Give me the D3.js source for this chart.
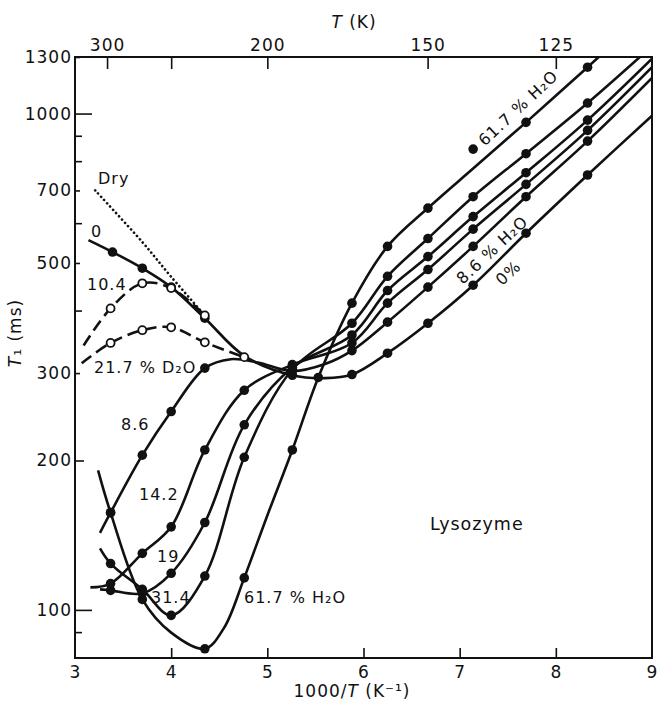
<!DOCTYPE html>
<html>
<head>
<meta charset="utf-8">
<script src="https://cdn.jsdelivr.net/npm/d3@7"></script>
<style>
body { margin: 0; background: #fff; }
text { font-family: "DejaVu Sans", sans-serif; fill: #111; letter-spacing: 1px; }
</style>
</head>
<body>
<div id="chart"></div>
<script>
// axes
var xTicks = [3, 4, 5, 6, 7, 8, 9];
var tempTicks = [300, 250, 200, 150, 125];
var tempLabels = {300: "300", 250: "", 200: "200", 150: "150", 125: "125"};
var yLabelled = [100, 200, 300, 500, 700, 1000, 1300];
var yMinor = [90, 400, 600, 800, 900];

// series: [1000/T, T1 (ms)]  curve = drawn line, dots = measured points
var dryCurve = [[3.21, 700], [3.70, 551], [4.0, 469], [4.37, 388]];

var d2o104Curve = [[3.09, 341], [3.37, 405], [3.70, 455], [4.0, 445], [4.35, 392]];
var d2o104Dots = [[3.37, 405], [3.70, 455], [4.0, 445], [4.35, 392]];

var d2o217Curve = [[3.07, 314], [3.37, 345], [3.70, 366], [4.0, 371], [4.35, 346], [4.76, 323]];
var d2o217Dots = [[3.37, 345], [3.70, 366], [4.0, 371], [4.35, 346], [4.76, 323]];

var h0Curve = [[3.14, 556], [3.39, 526], [3.70, 488], [4.0, 447], [4.35, 387], [4.76, 325], [5.26, 297],
    [5.6, 293], [5.88, 298], [6.25, 329], [6.67, 378], [7.14, 451], [7.69, 574], [8.33, 752], [9.0, 990]];
var h0Dots = [[3.39, 526], [3.70, 488], [4.0, 447], [4.35, 387], [5.26, 297], [5.88, 298], [6.25, 329],
    [6.67, 378], [7.14, 451], [7.69, 574], [8.33, 752]];

var h86Curve = [[3.26, 143], [3.37, 157], [3.70, 205], [4.0, 251], [4.35, 307], [4.62, 320], [4.9, 315],
    [5.26, 303], [5.6, 313], [5.88, 333], [6.25, 380], [6.67, 447], [7.14, 540], [7.69, 680], [8.33, 880], [9.0, 1180]];
var h86Dots = [[3.37, 157], [3.70, 205], [4.0, 251], [4.35, 307], [5.26, 303], [5.88, 333], [6.25, 380],
    [6.67, 447], [7.14, 540], [7.69, 680], [8.33, 880]];

var h142Curve = [[3.16, 111], [3.37, 113], [3.70, 130], [4.0, 147], [4.35, 210], [4.76, 277], [5.26, 312],
    [5.88, 345], [6.25, 415], [6.67, 485], [7.14, 585], [7.69, 720], [8.33, 925], [9.0, 1240]];
var h142Dots = [[3.37, 113], [3.70, 130], [4.0, 147], [4.35, 210], [4.76, 277], [5.26, 312], [5.88, 345],
    [6.25, 415], [6.67, 485], [7.14, 585], [7.69, 720], [8.33, 925]];

var h19Curve = [[3.26, 110], [3.37, 109.5], [3.70, 108], [4.0, 118.5], [4.35, 150], [4.76, 236], [5.26, 308],
    [5.88, 358], [6.25, 440], [6.67, 515], [7.14, 620], [7.69, 760], [8.33, 970], [9.0, 1290]];
var h19Dots = [[3.37, 109.5], [3.70, 108], [4.0, 118.5], [4.35, 150], [4.76, 236], [5.26, 308], [5.88, 358],
    [6.25, 440], [6.67, 515], [7.14, 620], [7.69, 760], [8.33, 970]];

var h314Curve = [[3.26, 133], [3.37, 124], [3.70, 110], [4.0, 97.5], [4.35, 117], [4.76, 203], [5.26, 305],
    [5.88, 378], [6.25, 470], [6.67, 560], [7.14, 680], [7.69, 830], [8.33, 1050], [8.95, 1340]];
var h314Dots = [[3.37, 124], [3.70, 110], [4.0, 97.5], [4.35, 117], [4.76, 203], [5.26, 305], [5.88, 378],
    [6.25, 470], [6.67, 560], [7.14, 680], [7.69, 830], [8.33, 1050]];

var h617Curve = [[3.24, 191], [3.37, 157], [3.70, 105], [4.0, 90], [4.35, 83.5], [4.55, 92], [4.76, 116],
    [5.0, 155], [5.26, 210], [5.53, 294], [5.88, 415], [6.25, 540], [6.67, 645], [7.14, 775], [7.69, 960],
    [8.33, 1240], [8.55, 1357]];
var h617Dots = [[3.37, 157], [3.70, 105], [4.35, 83.5], [4.76, 116], [5.26, 210], [5.53, 294], [5.88, 415],
    [6.25, 540], [6.67, 645], [7.14, 848], [7.69, 960], [8.33, 1240]];

function initChart(containerID) {
    var width = 657, height = 702;
    var frame = {left: 75, right: 652, top: 57, bottom: 658};

    var svg = d3.select("#" + containerID)
        .append("svg")
        .attr("width", width)
        .attr("height", height);

    var xScale = d3.scaleLinear().domain([3, 9]).range([frame.left, frame.right]);
    var yScale = d3.scaleLog().domain([80, 1300]).range([frame.bottom, frame.top]);

    var line = d3.line()
        .x(function(d) { return xScale(d[0]); })
        .y(function(d) { return yScale(d[1]); })
        .curve(d3.curveCatmullRom.alpha(0.5));

    svg.append("defs").append("clipPath")
        .attr("id", "mask")
        .append("rect")
        .attr("x", frame.left)
        .attr("y", frame.top)
        .attr("width", frame.right - frame.left)
        .attr("height", frame.bottom - frame.top);

    // bottom axis, ticks pointing inward
    var gX = svg.append("g")
        .attr("transform", "translate(0," + frame.bottom + ")")
        .call(d3.axisBottom(xScale).tickValues(xTicks).tickFormat(d3.format("d"))
            .tickSizeInner(-10).tickSizeOuter(0).tickPadding(8));

    // top temperature axis
    var gT = svg.append("g")
        .attr("transform", "translate(0," + frame.top + ")")
        .call(d3.axisTop(xScale)
            .tickValues(tempTicks.map(function(t) { return 1000 / t; }))
            .tickFormat(function(v) { return tempLabels[Math.round(1000 / v)]; })
            .tickSizeInner(-12).tickSizeOuter(0).tickPadding(6));

    // left axis
    var gY = svg.append("g")
        .attr("transform", "translate(" + frame.left + ",0)")
        .call(d3.axisLeft(yScale).tickValues(yLabelled).tickFormat(d3.format("d"))
            .tickSizeInner(-6).tickSizeOuter(0).tickPadding(3));

    gY.selectAll(".tick line")
        .attr("x2", function(d) {
            if (d === 1000 || d === 100) return 17;
            if (d === 200) return 9;
            return 5;
        });

    svg.append("g")
        .selectAll("line")
        .data(yMinor)
        .enter().append("line")
        .attr("x1", frame.left)
        .attr("x2", frame.left + 7)
        .attr("y1", function(d) { return yScale(d); })
        .attr("y2", function(d) { return yScale(d); })
        .attr("stroke", "#111")
        .attr("stroke-width", 1.6);

    [gX, gT, gY].forEach(function(g) {
        g.select(".domain").remove();
        g.attr("font-size", 17).attr("font-family", "DejaVu Sans, sans-serif");
        g.selectAll(".tick line").attr("stroke", "#111").attr("stroke-width", 1.6);
        g.selectAll(".tick text").attr("fill", "#111");
    });
    gX.selectAll(".tick line").attr("y2", function(d) { return (d === 3 || d === 9) ? 0 : -10; });

    svg.append("rect")
        .attr("x", frame.left)
        .attr("y", frame.top)
        .attr("width", frame.right - frame.left)
        .attr("height", frame.bottom - frame.top)
        .attr("fill", "none")
        .attr("stroke", "#111")
        .attr("stroke-width", 2);

    var plot = svg.append("g").attr("clip-path", "url(#mask)");

    function drawCurve(data, dash, cap) {
        plot.append("path")
            .datum(data)
            .attr("fill", "none")
            .attr("stroke", "#111")
            .attr("stroke-width", 2.6)
            .attr("stroke-linecap", cap || "butt")
            .attr("stroke-dasharray", dash || null)
            .attr("d", line);
    }

    function drawDots(data, open) {
        plot.append("g")
            .selectAll("circle")
            .data(data)
            .enter().append("circle")
            .attr("cx", function(d) { return xScale(d[0]); })
            .attr("cy", function(d) { return yScale(d[1]); })
            .attr("r", open ? 4 : 4.8)
            .attr("fill", open ? "#fff" : "#111")
            .attr("stroke", "#111")
            .attr("stroke-width", open ? 1.8 : 0);
    }

    drawCurve(dryCurve, "0.1,4.3", "round");
    drawCurve(h0Curve);
    drawCurve(h86Curve);
    drawCurve(h142Curve);
    drawCurve(h19Curve);
    drawCurve(h314Curve);
    drawCurve(h617Curve);
    drawCurve(d2o104Curve, "12,6");
    drawCurve(d2o217Curve, "12,6");

    drawDots(h0Dots);
    drawDots(h86Dots);
    drawDots(h142Dots);
    drawDots(h19Dots);
    drawDots(h314Dots);
    drawDots(h617Dots);
    drawDots(d2o104Dots, true);
    drawDots(d2o217Dots, true);

    // titles
    var tTitle = svg.append("text").attr("x", 354).attr("y", 28).attr("text-anchor", "middle").attr("font-size", 17);
    tTitle.append("tspan").attr("font-style", "italic").text("T");
    tTitle.append("tspan").text(" (K)");

    var xTitle = svg.append("text").attr("x", 352).attr("y", 697).attr("text-anchor", "middle").attr("font-size", 17);
    xTitle.append("tspan").text("1000/");
    xTitle.append("tspan").attr("font-style", "italic").text("T");
    xTitle.append("tspan").text(" (K⁻¹)");

    var yTitle = svg.append("text")
        .attr("transform", "translate(21,333) rotate(-90)")
        .attr("text-anchor", "middle")
        .attr("font-size", 17);
    yTitle.append("tspan").attr("font-style", "italic").text("T");
    yTitle.append("tspan").text("₁ (ms)");

    // curve labels
    function label(txt, x, y, rot, anchor, size) {
        svg.append("text")
            .attr("transform", "translate(" + x + "," + y + ")" + (rot ? " rotate(" + rot + ")" : ""))
            .attr("text-anchor", anchor || "start")
            .attr("font-size", size || 16)
            .text(txt);
    }

    label("Dry", 98, 184);
    label("0", 91, 237);
    label("10.4", 87, 290);
    label("21.7 % D₂O", 94, 373);
    label("8.6", 121, 430);
    label("14.2", 139, 500);
    label("19", 157, 562);
    label("31.4", 151, 603);
    label("61.7 % H₂O", 244, 603);
    label("Lysozyme", 430, 530, 0, "start", 17.5);
    label("61.7 % H₂O", 522, 112, -43, "middle");
    label("8.6 % H₂O", 496, 254, -43, "middle");
    label("0%", 512, 277, -43, "middle");
}

initChart("chart");
</script>
</body>
</html>
